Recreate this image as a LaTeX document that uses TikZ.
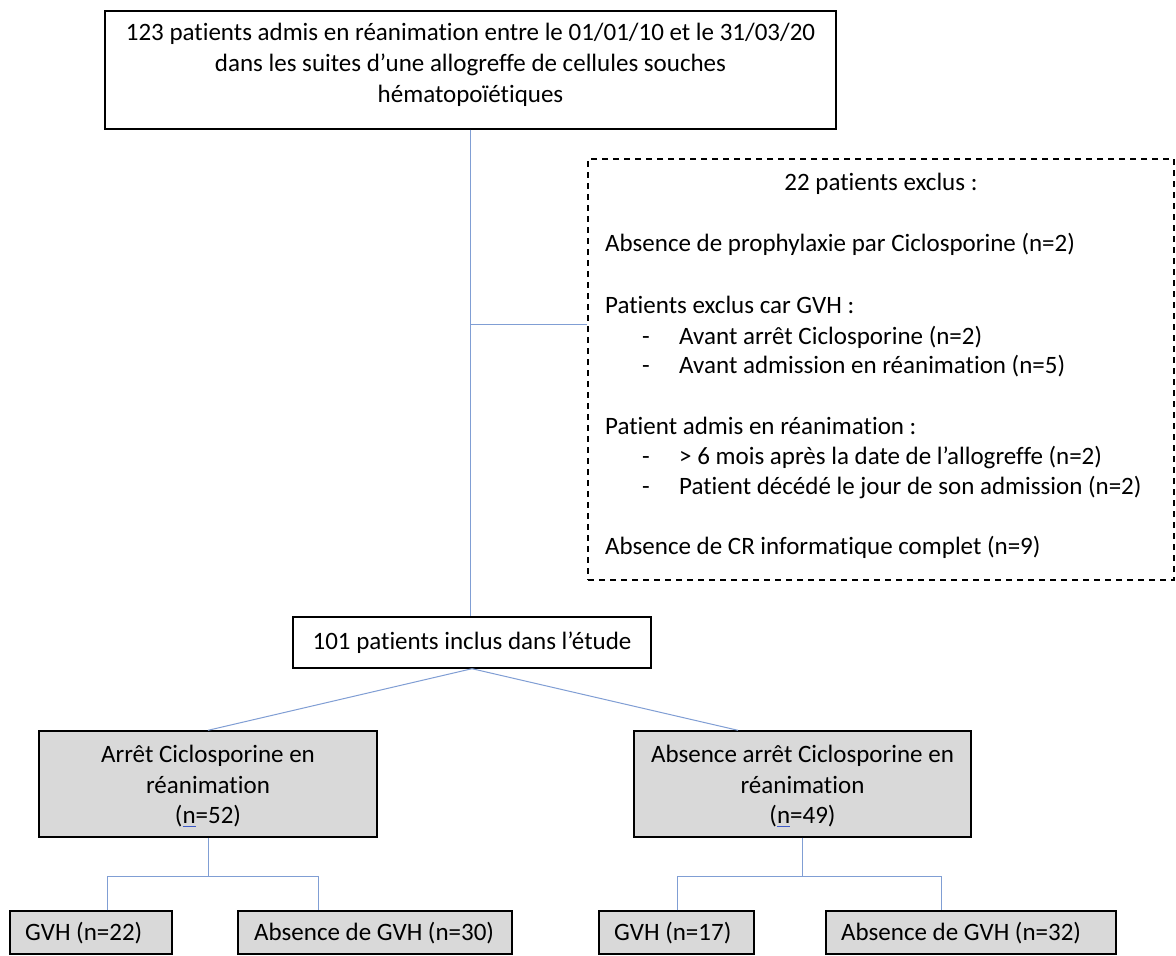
\documentclass[tikz,border=0pt]{standalone}
\usepackage{fontspec}
\setmainfont{Carlito}[Ligatures=NoCommon]
\definecolor{connc}{RGB}{128,158,212}
\definecolor{boxgray}{RGB}{217,217,217}
\definecolor{ulblue}{RGB}{60,90,200}
\newcommand\bluenmark{\leavevmode\sbox0{n}\rlap{\textcolor{ulblue}{\rule[-3.5pt]{\wd0}{1.3pt}}}n}
\begin{document}
\begin{tikzpicture}[x=1pt,y=-1pt,
  box/.style={draw=black, line width=1.4pt, rectangle, inner sep=0pt},
  graybox/.style={box, fill=boxgray},
  dashbox/.style={draw=black, line width=1.1pt, dash pattern=on 6pt off 5pt, rectangle, inner sep=0pt},
  conn/.style={draw=connc, line width=1pt},
  txt/.style={font=\fontsize{25}{31}\selectfont, inner sep=0pt, anchor=mid, yshift=-5pt},
  ltxt/.style={txt, anchor=mid west},
]
\useasboundingbox[fill=white] (0,0) rectangle (1176,956);

% boxes
\node[box, minimum width=731pt, minimum height=118pt] (top) at (470.5,70) {};
\node[dashbox, minimum width=586pt, minimum height=421pt] (excl) at (881,369.5) {};
\node[box, minimum width=358pt, minimum height=51pt] (incl) at (472,642.5) {};
\node[graybox, minimum width=338pt, minimum height=106pt] (lg) at (208,784) {};
\node[graybox, minimum width=337pt, minimum height=106pt] (rg) at (802.5,784) {};
\node[graybox, minimum width=162pt, minimum height=43pt] (b1) at (91,932.5) {};
\node[graybox, minimum width=274pt, minimum height=43pt] (b2) at (375,932.5) {};
\node[graybox, minimum width=155pt, minimum height=43pt] (b3) at (676.5,932.5) {};
\node[graybox, minimum width=290pt, minimum height=43pt] (b4) at (971,932.5) {};

% texts of top box
\node[txt] (ta) at (470.5,33) {123 patients admis en réanimation entre le 01/01/10 et le 31/03/20};
\node[txt] (tb) at (470.5,64) {dans les suites d’une allogreffe de cellules souches};
\node[txt] (tc) at (470.5,95) {hématopoïétiques};

% texts of excluded box
\node[txt] (ea) at (881,183) {22 patients exclus :};
\node[ltxt] (eb) at (605,244) {Absence de prophylaxie par Ciclosporine (n=2)};
\node[ltxt] (ec) at (605,306) {Patients exclus car GVH :};
\node[ltxt] (ecd1) at (642,337) {-};
\node[ltxt] (ec1) at (679,337) {Avant arrêt Ciclosporine (n=2)};
\node[ltxt] (ecd2) at (642,366) {-};
\node[ltxt] (ec2) at (679,366) {Avant admission en réanimation (n=5)};
\node[ltxt] (ed) at (605,427) {Patient admis en réanimation :};
\node[ltxt] (edd1) at (642,457) {-};
\node[ltxt] (ed1) at (679,457) {> 6 mois après la date de l’allogreffe (n=2)};
\node[ltxt] (edd2) at (642,487) {-};
\node[ltxt] (ed2) at (679,487) {Patient décédé le jour de son admission (n=2)};
\node[ltxt] (ee) at (605,547) {Absence de CR informatique complet (n=9)};

% included
\node[txt] (it) at (472,642) {101 patients inclus dans l’étude};

% gray boxes
\node[txt] (la) at (208,755) {Arrêt Ciclosporine en};
\node[txt] (lb) at (208,786) {réanimation};
\node[txt] (lc) at (208,816) {(\bluenmark=52)};
\node[txt] (ra) at (802.5,755) {Absence arrêt Ciclosporine en};
\node[txt] (rb) at (802.5,786) {réanimation};
\node[txt] (rc) at (802.5,816) {(\bluenmark=49)};

% bottom texts
\node[ltxt] (b1t) at (25,933) {GVH (n=22)};
\node[ltxt] (b2t) at (254,933) {Absence de GVH (n=30)};
\node[ltxt] (b3t) at (614,933) {GVH (n=17)};
\node[ltxt] (b4t) at (841,933) {Absence de GVH (n=32)};

% connectors
\coordinate (br) at (471,324);
\draw[conn] (top.south) -- (top.south |- incl.north);
\draw[conn] (br) -- (br -| excl.west);
\draw[conn] (incl.south) -- (lg.north);
\draw[conn] (incl.south) -- ([xshift=-64.5pt]rg.north);

\coordinate (lj) at (208,876);
\coordinate (l1) at (107,876);
\coordinate (l2) at (318,876);
\draw[conn] (lg.south) -- (lj);
\draw[conn] (l1 |- b1.north) -- (l1) -- (l2) -- (l2 |- b2.north);

\coordinate (rj) at (802.5,876);
\coordinate (r1) at (677,876);
\coordinate (r2) at (941,876);
\draw[conn] (rg.south) -- (rj);
\draw[conn] (r1 |- b3.north) -- (r1) -- (r2) -- (r2 |- b4.north);
\end{tikzpicture}
\end{document}
